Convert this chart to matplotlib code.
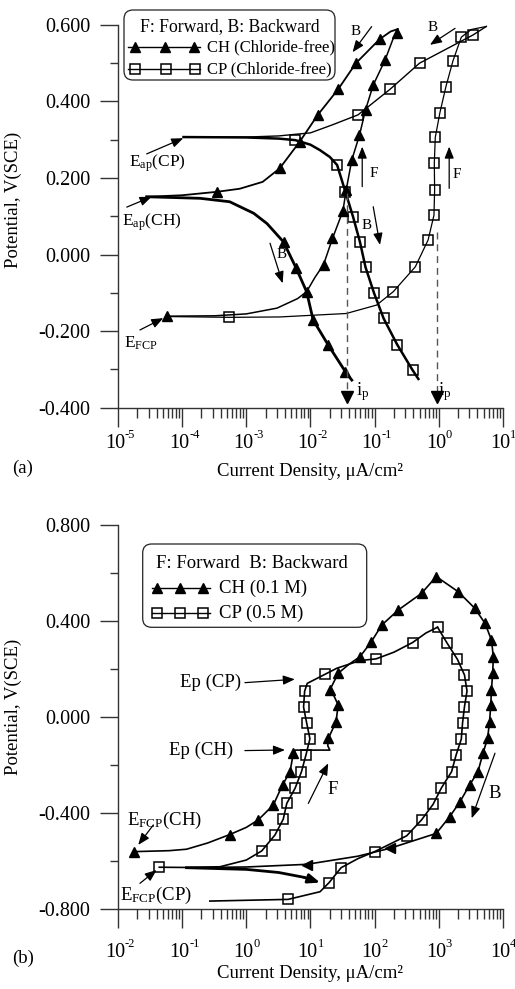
import matplotlib
matplotlib.use("Agg")
import numpy as np
import matplotlib.pyplot as plt
from matplotlib.lines import Line2D
from matplotlib.patches import FancyBboxPatch
from matplotlib.transforms import Affine2D
from matplotlib.ticker import FixedLocator, LogLocator, NullFormatter

plt.rcParams['font.family'] = ['Liberation Serif', 'DejaVu Serif']
plt.rcParams['mathtext.fontset'] = 'custom'
plt.rcParams['mathtext.rm'] = 'Liberation Serif'
plt.rcParams['mathtext.it'] = 'Liberation Serif:italic'
plt.rcParams['mathtext.bf'] = 'Liberation Serif:bold'
plt.rcParams['axes.unicode_minus'] = False

# ---------------- Panel (a): chloride-free ----------------
ch_fwd_i = [5.8e-5, 3.2e-4, 1.0e-3, 3.0e-3, 6.3e-3, 8.7e-3, 1.17e-2, 1.6e-2, 2.2e-2, 3.2e-2,
            3.6e-2, 4.4e-2, 5.8e-2, 7.2e-2, 9.5e-2, 0.145, 0.19, 0.229]
ch_fwd_E = [-0.161, -0.160, -0.155, -0.140, -0.115, -0.097, -0.060, -0.026, 0.042, 0.114,
            0.169, 0.247, 0.312, 0.378, 0.443, 0.508, 0.560, 0.589]
ch_bwd_i = [0.229, 0.178, 0.12, 5.1e-2, 2.7e-2, 1.3e-2, 6.8e-3, 3.3e-3, 1.8e-3, 7.9e-4, 3.5e-4, 1.0e-4, 2.8e-5]
ch_bwd_E = [0.589, 0.583, 0.563, 0.500, 0.432, 0.365, 0.295, 0.225, 0.190, 0.172, 0.164, 0.155, 0.151]
ch_cat_i = [2.8e-5, 1.9e-4, 5.5e-4, 1.3e-3, 2.1e-3, 3.8e-3, 6.0e-3, 8.7e-3, 1.1e-2, 1.9e-2, 3.5e-2, 4.4e-2]
ch_cat_E = [0.151, 0.147, 0.138, 0.108, 0.081, 0.033, -0.036, -0.097, -0.171, -0.237, -0.306, -0.328]
ch_mk_i = [5.8e-5, 8.7e-3, 1.6e-2, 2.2e-2, 3.2e-2, 3.6e-2, 4.4e-2, 5.8e-2, 7.2e-2, 9.5e-2, 0.145, 0.219,
           0.12, 5.1e-2, 2.7e-2, 1.3e-2, 6.8e-3, 3.3e-3, 3.5e-4,
           3.8e-3, 6.0e-3, 1.1e-2, 1.9e-2, 3.5e-2]
ch_mk_E = [-0.161, -0.097, -0.026, 0.042, 0.114, 0.169, 0.247, 0.312, 0.378, 0.443, 0.508, 0.578,
           0.563, 0.500, 0.432, 0.365, 0.295, 0.225, 0.164,
           0.033, -0.036, -0.171, -0.237, -0.306]

cp_fwd_i = [6.3e-5, 5.4e-4, 3.3e-3, 3.6e-2, 0.107, 0.195, 0.43, 0.68, 0.84, 0.86, 0.85, 0.88,
            1.04, 1.29, 1.66, 2.24, 3.2, 5.5]
cp_fwd_E = [-0.162, -0.164, -0.163, -0.154, -0.132, -0.097, -0.032, 0.038, 0.103, 0.169, 0.238, 0.306,
            0.371, 0.439, 0.506, 0.568, 0.588, 0.596]
cp_bwd_i = [5.5, 3.43, 0.50, 0.174, 5.5e-2, 2.2e-2, 1.0e-2, 3.2e-3, 1.0e-3, 1.05e-4]
cp_bwd_E = [0.596, 0.574, 0.500, 0.432, 0.365, 0.339, 0.318, 0.310, 0.307, 0.307]
cp_cat_i = [1.05e-4, 1.0e-3, 3.2e-3, 5.8e-3, 1.0e-2, 1.4e-2, 2.0e-2, 2.6e-2, 3.5e-2, 4.6e-2,
            5.9e-2, 7.2e-2, 9.8e-2, 0.138, 0.224, 0.39, 0.48]
cp_cat_E = [0.307, 0.306, 0.303, 0.299, 0.287, 0.273, 0.255, 0.234, 0.164, 0.099,
            0.033, -0.033, -0.101, -0.167, -0.235, -0.302, -0.325]
cp_mk_i = [5.4e-4, 0.195, 0.43, 0.68, 0.84, 0.86, 0.85, 0.88, 1.04, 1.29, 1.66, 2.24, 3.43,
           0.50, 0.174, 5.5e-2, 5.8e-3, 2.6e-2, 3.5e-2, 4.6e-2, 5.9e-2, 7.2e-2, 9.8e-2, 0.138, 0.224, 0.39]
cp_mk_E = [-0.164, -0.097, -0.032, 0.038, 0.103, 0.169, 0.238, 0.306, 0.371, 0.439, 0.506, 0.568, 0.574,
           0.500, 0.432, 0.365, 0.299, 0.234, 0.164, 0.099, 0.033, -0.033, -0.101, -0.167, -0.235, -0.302]

ip_i = [0.037, 0.93]
ip_top = [0.16, 0.06]
ip_bot = -0.372

# ---------------- Panel (b): chloride ----------------
ch2_fwd_i = [0.018, 0.063, 0.117, 0.25, 0.55, 1.0, 1.53, 2.63, 3.67, 4.8, 5.4, 5.8, 20, 18.6, 19,
             25, 27, 23, 20, 27, 40, 59, 89, 129, 234, 537, 912]
ch2_fwd_E = [-0.561, -0.557, -0.551, -0.525, -0.490, -0.460, -0.429, -0.367, -0.283, -0.228, -0.151,
             -0.138, -0.138, -0.120, -0.089, -0.020, 0.050, 0.090, 0.112, 0.182, 0.220, 0.251, 0.314,
             0.383, 0.446, 0.515, 0.585]
ch2_bwd_i = [912, 2000, 3630, 5250, 6600, 7080, 6900, 6600, 6450, 6170, 5750, 4900, 4070, 3020, 2140,
             1480, 912, 174, 55, 8.7, 1.0, 0.117]
ch2_bwd_E = [0.585, 0.522, 0.453, 0.390, 0.321, 0.251, 0.182, 0.112, 0.050, -0.020, -0.089, -0.149,
             -0.228, -0.283, -0.353, -0.415, -0.485, -0.547, -0.580, -0.614, -0.625, -0.628]
ch2_mk_i = [0.018, 0.55, 1.53, 2.63, 3.67, 4.8, 5.4, 19, 25, 27, 20, 27, 59, 89, 129, 234, 537, 912,
            2000, 3630, 5250, 6600, 7080, 6900, 6600, 6450, 6170, 5750, 4900, 4070, 3020, 2140, 1480, 912]
ch2_mk_E = [-0.561, -0.490, -0.429, -0.367, -0.283, -0.228, -0.151, -0.089, -0.020, 0.050, 0.112, 0.182,
            0.251, 0.314, 0.383, 0.446, 0.515, 0.585, 0.522, 0.453, 0.390, 0.321, 0.251, 0.182, 0.112,
            0.050, -0.020, -0.089, -0.149, -0.228, -0.283, -0.353, -0.415, -0.485]
ch2_mkl_i = [174, 8.7]
ch2_mkl_E = [-0.547, -0.617]

cp2_fwd_i = [0.044, 0.117, 0.39, 1.0, 1.74, 2.79, 3.76, 4.27, 5.75, 7.24, 8.5, 9.8, 8.7, 7.8, 8.1, 8.9,
             16.6, 25.7, 59, 105, 200, 389, 631, 955]
cp2_fwd_E = [-0.626, -0.627, -0.624, -0.596, -0.558, -0.492, -0.426, -0.360, -0.297, -0.228, -0.158,
             -0.091, -0.024, 0.041, 0.107, 0.140, 0.177, 0.203, 0.235, 0.242, 0.270, 0.310, 0.350, 0.374]
cp2_bwd_i = [955, 1350, 1950, 2510, 2750, 2510, 2340, 2240, 1860, 1580, 1100, 813, 537, 316, 100, 55,
             30, 19.5, 14.1, 4.47, 0.27]
cp2_bwd_E = [0.374, 0.307, 0.240, 0.175, 0.108, 0.043, -0.026, -0.092, -0.158, -0.228, -0.295, -0.364,
             -0.429, -0.495, -0.561, -0.590, -0.628, -0.690, -0.728, -0.760, -0.767]
cp2_tail_i = [0.117, 1.0, 3.2, 7.9, 14.1]
cp2_tail_E = [-0.628, -0.635, -0.648, -0.668, -0.690]
cp2_mk_i = [0.044, 1.74, 2.79, 3.76, 4.27, 5.75, 7.24, 8.5, 9.8, 8.7, 7.8, 8.1, 16.6, 105, 389, 955,
            1350, 1950, 2510, 2750, 2510, 2340, 2240, 1860, 1580, 1100, 813, 537, 316, 100, 30, 19.5, 4.47]
cp2_mk_E = [-0.626, -0.558, -0.492, -0.426, -0.360, -0.297, -0.228, -0.158, -0.091, -0.024, 0.041, 0.107,
            0.177, 0.242, 0.310, 0.374, 0.307, 0.240, 0.175, 0.108, 0.043, -0.026, -0.092, -0.158, -0.228,
            -0.295, -0.364, -0.429, -0.495, -0.561, -0.628, -0.690, -0.760]

yticks_a = [-0.4, -0.2, 0.0, 0.2, 0.4, 0.6]
yticks_b = [-0.8, -0.4, 0.0, 0.4, 0.8]
xticks_a = [1e-5, 1e-4, 1e-3, 1e-2, 1e-1, 1e0, 1e1]
xticks_b = [1e-2, 1e-1, 1e0, 1e1, 1e2, 1e3, 1e4]

W, H = 515, 989
FS = 13.5
TFS = 14.5
fig = plt.figure(figsize=(W / 100, H / 100), dpi=100)
ax1 = fig.add_axes([0.2291, 0.5878, 0.7476, 0.387])
ax2 = fig.add_axes([0.2291, 0.0809, 0.7476, 0.3883])
PIX = Affine2D().scale(1, -1).translate(0, H)   # pixel coords, origin top-left

TRI = dict(ls='none', marker='^', ms=7, color='k')
SQ = dict(ls='none', marker='s', ms=7.5, mfc='none', mec='k', mew=1.1)


def style(ax, xlim, ylim, yt, xt, base_dy, exp_dy):
    ax.set_xscale('log')
    ax.set_xlim(*xlim)
    ax.set_ylim(*ylim)
    for s in ['top', 'right']:
        ax.spines[s].set_visible(False)
    for s in ['left', 'bottom']:
        ax.spines[s].set_color('#333333')
        ax.spines[s].set_linewidth(1.0)
    ax.yaxis.set_major_locator(FixedLocator(yt))
    step = yt[1] - yt[0]
    ax.yaxis.set_minor_locator(FixedLocator([v + step / 2 for v in yt[:-1]]))
    ax.set_yticklabels(['%.3f' % v for v in yt])
    ax.xaxis.set_major_locator(FixedLocator(xt))
    ax.xaxis.set_minor_locator(LogLocator(base=10, subs=range(2, 10), numticks=100))
    ax.xaxis.set_major_formatter(NullFormatter())
    ax.xaxis.set_minor_formatter(NullFormatter())
    ax.tick_params(axis='y', which='major', direction='out', length=13, width=1, pad=7,
                   labelsize=TFS, color='#333333')
    ax.tick_params(axis='y', which='minor', direction='out', length=6, width=1, color='#333333')
    ax.tick_params(axis='x', which='major', direction='out', length=13.5, width=1, color='#333333')
    ax.tick_params(axis='x', which='minor', direction='out', length=7, width=1, color='#333333')
    # decade labels: "10" centred on the tick, exponent hanging to the upper right
    for v in xt:
        e = int(round(np.log10(v)))
        ax.annotate('10', xy=(v, 0), xycoords=('data', 'axes fraction'), xytext=(-3, -base_dy),
                    textcoords='offset pixels', ha='center', va='baseline', fontsize=TFS,
                    annotation_clip=False)
        ax.annotate(str(e), xy=(v, 0), xycoords=('data', 'axes fraction'), xytext=(7, -exp_dy),
                    textcoords='offset pixels', ha='left', va='baseline', fontsize=9,
                    annotation_clip=False)
    ax.set_ylabel('Potential, V(SCE)', fontsize=FS)
    ax.set_xlabel('Current Density, \u03bcA/cm\u00b2', fontsize=FS)


def arrow(ax, start, end, lw=0.9):
    ax.annotate('', xy=end, xytext=start,
                arrowprops=dict(arrowstyle='-|>,head_length=0.7,head_width=0.28', color='k', lw=lw,
                                shrinkA=0, shrinkB=0))


def legend_box(x0, y0, x1, y1, title, tx, ty, rows, tfs, fs):
    """Manual legend drawn in figure pixel coordinates (origin top-left)."""
    box = FancyBboxPatch((x0, y0), x1 - x0, y1 - y0, boxstyle='round,pad=0,rounding_size=9',
                         transform=PIX, fc='white', ec='#222222', lw=0.9, zorder=5)
    fig.patches.append(box)
    fig.text(tx, ty, title, transform=PIX, fontsize=tfs, ha='center', va='center', zorder=6)
    for (lx0, lx1, mxs, y, mk, label, lblx) in rows:
        fig.add_artist(Line2D([lx0, lx1], [y, y], transform=PIX, color='k', lw=1, zorder=6))
        if mk == '^':
            fig.add_artist(Line2D(mxs, [y] * len(mxs), transform=PIX, zorder=7, **TRI))
        else:
            fig.add_artist(Line2D(mxs, [y] * len(mxs), transform=PIX, zorder=7, **SQ))
        fig.text(lblx, y, label, transform=PIX, fontsize=fs, ha='left', va='center', zorder=6)


# ---------- panel (a) ----------
style(ax1, (1e-5, 1e1), (-0.4, 0.6), yticks_a, xticks_a, 40, 30)
ax1.yaxis.set_label_coords(-0.249, 0.543)
ax1.xaxis.set_label_coords(0.5, -0.145)
ax1.plot(ch_fwd_i, ch_fwd_E, color='k', lw=1.1)
ax1.plot(ch_bwd_i, ch_bwd_E, color='k', lw=1.3)
ax1.plot(ch_cat_i, ch_cat_E, color='k', lw=2.0)
ax1.plot(cp_fwd_i, cp_fwd_E, color='k', lw=0.9)
ax1.plot(cp_bwd_i, cp_bwd_E, color='k', lw=1.0)
ax1.plot(cp_cat_i, cp_cat_E, color='k', lw=1.8)
ax1.plot(ch_mk_i, ch_mk_E, **TRI)
ax1.plot(cp_mk_i, cp_mk_E, **SQ)
for x, t in zip(ip_i, ip_top):
    ax1.plot([x, x], [t, ip_bot], ls=(0, (5, 3.5)), color='#555555', lw=1.0)
    ax1.plot([x], [ip_bot], marker='v', ms=8, color='k', ls='none')
ax1.text(0.066, -0.359, r'i$_{\rm p}$', fontsize=FS, va='center', ha='center')
ax1.text(1.25, -0.359, r'i$_{\rm p}$', fontsize=FS, va='center', ha='center')

arrow(ax1, (0.0897, 0.5956), (0.0453, 0.5287))
ax1.text(0.051, 0.582, 'B', fontsize=11, ha='center', va='center')
arrow(ax1, (1.79, 0.591), (0.728, 0.548))
ax1.text(0.81, 0.592, 'B', fontsize=11, ha='center', va='center')
arrow(ax1, (0.064, 0.1775), (0.064, 0.282))
ax1.text(0.098, 0.213, 'F', fontsize=11, ha='center', va='center')
arrow(ax1, (1.45, 0.173), (1.45, 0.282))
ax1.text(1.89, 0.208, 'F', fontsize=11, ha='center', va='center')
arrow(ax1, (0.095, 0.125), (0.121, 0.0253))
ax1.text(0.076, 0.077, 'B', fontsize=11, ha='center', va='center')
arrow(ax1, (2.34e-3, 0.0296), (3.68e-3, -0.075))
ax1.text(3.6e-3, -0.001, 'B', fontsize=11, ha='center', va='center')

ax1.text(4.06e-5, 0.239, r'E$_{\rm ap}$(CP)', fontsize=12.5, ha='center', va='center')
arrow(ax1, (2.8e-5, 0.263), (1.04e-4, 0.304))
ax1.text(3.4e-5, 0.085, r'E$_{\rm ap}$(CH)', fontsize=12.5, ha='center', va='center')
arrow(ax1, (1.37e-5, 0.124), (3.34e-5, 0.151))
ax1.text(2.32e-5, -0.231, r'E$_{\rm FCP}$', fontsize=12.5, ha='center', va='center')
arrow(ax1, (2.2e-5, -0.197), (5.08e-5, -0.166))

legend_box(124, 10, 335, 80, 'F: Forward, B: Backward', 229.5, 27,
           [(128, 200, [135, 164.5, 194], 47, '^', 'CH (Chloride-free)', 207),
            (128, 200, [135, 166, 195], 69, 's', 'CP (Chloride-free)', 207)], 12.7, 12.0)

# ---------- panel (b) ----------
style(ax2, (1e-2, 1e4), (-0.8, 0.8), yticks_b, xticks_b, 48, 38)
ax2.yaxis.set_label_coords(-0.249, 0.526)
ax2.xaxis.set_label_coords(0.5, -0.146)
ax2.plot(ch2_fwd_i, ch2_fwd_E, color='k', lw=1.2)
ax2.plot(ch2_bwd_i, ch2_bwd_E, color='k', lw=1.2)
ax2.plot(cp2_fwd_i, cp2_fwd_E, color='k', lw=1.2)
ax2.plot(cp2_bwd_i, cp2_bwd_E, color='k', lw=1.2)
ax2.plot(cp2_tail_i[:-1], cp2_tail_E[:-1], color='k', lw=2.0)
arrow(ax2, (cp2_tail_i[-2], cp2_tail_E[-2]), (cp2_tail_i[-1], cp2_tail_E[-1]), lw=2.0)
ax2.plot(ch2_mk_i, ch2_mk_E, **TRI)
ax2.plot(ch2_mkl_i, ch2_mkl_E, ls='none', marker='<', ms=7, color='k')
ax2.plot(cp2_mk_i, cp2_mk_E, **SQ)

ax2.text(0.83, 0.146, 'Ep (CP)', fontsize=FS, ha='right', va='center')
arrow(ax2, (0.95, 0.143), (5.7, 0.157))
ax2.text(0.62, -0.1375, 'Ep (CH)', fontsize=FS, ha='right', va='center')
arrow(ax2, (0.95, -0.140), (4.0, -0.1375))
arrow(ax2, (9.25, -0.36), (18.9, -0.193))
ax2.text(18.6, -0.304, 'F', fontsize=FS, ha='left', va='center')
arrow(ax2, (7500, -0.151), (3250, -0.422))
ax2.text(5830, -0.317, 'B', fontsize=FS, ha='left', va='center')
ax2.text(0.054, -0.429, r'E$_{\rm FCP}$(CH)', fontsize=FS, ha='center', va='center')
arrow(ax2, (0.0355, -0.45), (0.0207, -0.533))
ax2.text(0.039, -0.742, r'E$_{\rm FCP}$(CP)', fontsize=FS, ha='center', va='center')
arrow(ax2, (0.022, -0.693), (0.040, -0.6375))

legend_box(142.7, 544, 366.7, 627.3, 'F: Forward  B: Backward', 252, 563,
           [(152, 210, [157, 180, 203], 588.3, '^', 'CH (0.1 M)', 219),
            (152, 210, [157, 180, 203], 613.3, 's', 'CP (0.5 M)', 219)], FS, FS)

fig.text(12 / W, 1 - 468 / H, '(a)', fontsize=FS, va='center', ha='left')
fig.text(12 / W, 1 - 958 / H, '(b)', fontsize=FS, va='center', ha='left')

fig.savefig('out.png', dpi=100)
